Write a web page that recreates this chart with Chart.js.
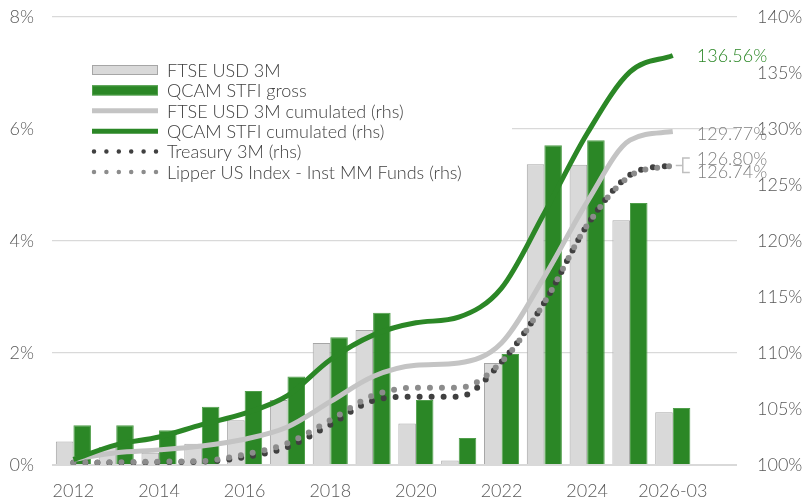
<!DOCTYPE html>
<html>
<head>
<meta charset="utf-8">
<script src="https://cdn.jsdelivr.net/npm/chart.js@4.4.1/dist/chart.umd.min.js"></script>
<style>
  html, body { margin: 0; padding: 0; background: #fff; }
  #wrap { width: 804px; height: 498px; }
</style>
</head>
<body>
<div id="wrap"><canvas id="perfchart" width="804" height="498"></canvas></div>
<script>
const categories = ["2012", "2013", "2014", "2015", "2016", "2017", "2018", "2019", "2020",
    "2021", "2022", "2023", "2024", "2025", "2026-03", ""];

// yearly returns, % (left axis)
const ftseYearly = [0.42, 0.32, 0.22, 0.38, 0.80, 1.16, 2.18, 2.41, 0.74, 0.08, 1.82, 5.37, 5.36, 4.37, 0.94, null];
const qcamYearly = [0.71, 0.71, 0.62, 1.04, 1.32, 1.58, 2.28, 2.72, 1.16, 0.48, 1.98, 5.71, 5.80, 4.68, 1.02, null];

// cumulated, % (right axis)
const ftseCumulated = [100.5, 101.1, 101.35, 101.7, 102.3, 103.4, 105.65, 107.9, 108.9, 109.1, 110.9, 116.8, 123.5, 129.0, 129.77, null];
const qcamCumulated = [100.5, 101.8, 102.5, 103.6, 104.6, 106.2, 109.4, 111.6, 112.7, 113.2, 115.8, 122.5, 129.6, 135.1, 136.56, null];
const treasury3m = [100.2, 100.2, 100.25, 100.3, 100.7, 101.6, 103.6, 105.75, 106.1, 106.1, 109.2, 114.5, 121.4, 125.9, 126.80, null];
const lipperMM = [100.2, 100.25, 100.3, 100.35, 100.95, 101.95, 104.0, 106.2, 106.9, 106.9, 109.2, 114.5, 121.4, 125.8, 126.74, null];

const leftTicks = [0, 2, 4, 6, 8];
const rightTicks = [100, 105, 110, 115, 120, 125, 130, 135, 140];

const GREEN = "#2b8726";
const LIGHT = "#d9d9d9";
const TXT = "#595959";
const FONT = "300 18px Lato";

Chart.defaults.font.family = "Lato";
Chart.defaults.font.size = 18;
Chart.defaults.font.weight = 300;
Chart.defaults.color = TXT;

// legend drawn inside the plot, on a white box
const boxLegend = {
    id: "boxLegend",
    beforeDatasetsDraw(chart) {
        const ctx = chart.ctx;
        const left = chart.chartArea.left;
        ctx.save();
        ctx.fillStyle = "#fff";
        ctx.fillRect(left, 44, 460, 152);
        const sx = left + 40, ex = left + 106, tx = left + 115;
        ctx.font = FONT;
        ctx.textBaseline = "middle";
        chart.data.datasets.forEach((ds, i) => {
            const y = 70 + i * 20.4;
            if (ds.type === "bar") {
                ctx.fillStyle = ds.backgroundColor;
                ctx.strokeStyle = ds.borderColor;
                ctx.lineWidth = 1;
                ctx.fillRect(sx, y - 5, ex - sx, 10);
                ctx.strokeRect(sx + 0.5, y - 4.5, ex - sx - 1, 9);
            } else {
                ctx.strokeStyle = ds.borderColor;
                ctx.lineWidth = ds.dotted ? 4.5 : 5;
                ctx.lineCap = ds.dotted ? "round" : "butt";
                ctx.setLineDash(ds.dotted ? [0, 12.4] : []);
                ctx.beginPath();
                ctx.moveTo(sx + (ds.dotted ? 2 : 0), y);
                ctx.lineTo(ex - (ds.dotted ? 2 : 0), y);
                ctx.stroke();
                ctx.setLineDash([]);
            }
            ctx.fillStyle = "#404040";
            ctx.fillText(ds.label, tx, y + 1);
        });
        ctx.restore();
    }
};

// value labels at the end of the cumulated lines
const endLabels = {
    id: "endLabels",
    afterDatasetsDraw(chart) {
        const ctx = chart.ctx;
        ctx.save();
        ctx.font = FONT;
        ctx.textBaseline = "middle";
        const items = [
            { ds: 3, dy: 1, color: GREEN },
            { ds: 2, dy: 2.5, color: "#808080" },
            { ds: 4, dy: -6, color: "#808080" },
            { ds: 5, dy: 6.5, color: "#808080" }
        ];
        let px = 0, py = 0;
        items.forEach(it => {
            const ds = chart.data.datasets[it.ds];
            const meta = chart.getDatasetMeta(it.ds);
            const last = ds.data.length - 2;
            const pt = meta.data[last];
            px = pt.x; py = pt.y;
            ctx.fillStyle = it.color;
            ctx.fillText(ds.data[last].toFixed(2) + "%", pt.x + 24, pt.y + it.dy);
        });
        // bracket joining the two dotted line labels
        ctx.strokeStyle = "#bfbfbf";
        ctx.lineWidth = 1.5;
        ctx.beginPath();
        ctx.moveTo(px + 3, py);
        ctx.lineTo(px + 10, py);
        ctx.moveTo(px + 17, py - 7.5);
        ctx.lineTo(px + 10, py - 7.5);
        ctx.lineTo(px + 10, py + 7);
        ctx.lineTo(px + 17, py + 7);
        ctx.stroke();
        ctx.restore();
    }
};

function fitY(width) {
    return s => {
        s.width = width;
        s.paddingTop = 0;
        s.paddingBottom = 0;
    };
}

new Chart(document.getElementById("perfchart"), {
    data: {
        labels: categories,
        datasets: [
            {
                type: "bar",
                label: "FTSE USD 3M",
                data: ftseYearly,
                backgroundColor: LIGHT,
                borderColor: "#a6a6a6",
                borderWidth: 1,
                yAxisID: "y",
                order: 10
            },
            {
                type: "bar",
                label: "QCAM STFI gross",
                data: qcamYearly,
                backgroundColor: GREEN,
                borderColor: "#4f9e4a",
                borderWidth: 1,
                yAxisID: "y",
                order: 10
            },
            {
                type: "line",
                label: "FTSE USD 3M cumulated (rhs)",
                data: ftseCumulated,
                borderColor: "#c4c4c4",
                borderWidth: 5,
                pointRadius: 0,
                cubicInterpolationMode: "monotone",
                yAxisID: "y1",
                order: 3
            },
            {
                type: "line",
                label: "QCAM STFI cumulated (rhs)",
                data: qcamCumulated,
                borderColor: GREEN,
                borderWidth: 5,
                pointRadius: 0,
                cubicInterpolationMode: "monotone",
                yAxisID: "y1",
                order: 1
            },
            {
                type: "line",
                label: "Treasury 3M (rhs)",
                data: treasury3m,
                borderColor: "#404040",
                borderWidth: 6,
                borderDash: [0, 12],
                borderCapStyle: "round",
                dotted: true,
                pointRadius: 0,
                cubicInterpolationMode: "monotone",
                yAxisID: "y1",
                order: 2.5
            },
            {
                type: "line",
                label: "Lipper US Index - Inst MM Funds (rhs)",
                data: lipperMM,
                borderColor: "#8c8c8c",
                borderWidth: 6,
                borderDash: [0, 12],
                borderCapStyle: "round",
                dotted: true,
                pointRadius: 0,
                cubicInterpolationMode: "monotone",
                yAxisID: "y1",
                order: 2
            }
        ]
    },
    options: {
        responsive: false,
        animation: false,
        layout: { padding: { top: 17, left: 0, right: 0, bottom: 0 } },
        datasets: { bar: { categoryPercentage: 0.82, barPercentage: 1.0 } },
        plugins: {
            legend: { display: false },
            tooltip: { enabled: false }
        },
        scales: {
            x: {
                grid: { display: false },
                border: { display: false },
                ticks: {
                    autoSkip: false,
                    maxRotation: 0,
                    padding: 7,
                    callback: function(val, idx) {
                        return idx % 2 === 0 ? categories[idx] : "";
                    }
                },
                afterFit: s => { s.height = 33; }
            },
            y: {
                position: "left",
                min: leftTicks[0],
                max: leftTicks[leftTicks.length - 1],
                afterBuildTicks: s => { s.ticks = leftTicks.map(v => ({ value: v })); },
                grid: {
                    color: LIGHT,
                    drawTicks: false,
                    lineWidth: c => (c.tick && c.tick.value === 0 ? 2 : 1.2)
                },
                border: { display: false },
                ticks: { padding: 18, callback: v => v + "%" },
                afterFit: fitY(52)
            },
            y1: {
                position: "right",
                min: rightTicks[0],
                max: rightTicks[rightTicks.length - 1],
                afterBuildTicks: s => { s.ticks = rightTicks.map(v => ({ value: v })); },
                grid: { display: false, drawTicks: false },
                border: { display: false },
                ticks: { padding: 20, callback: v => v + "%" },
                afterFit: fitY(67)
            }
        }
    },
    plugins: [boxLegend, endLabels]
});
</script>
</body>
</html>
